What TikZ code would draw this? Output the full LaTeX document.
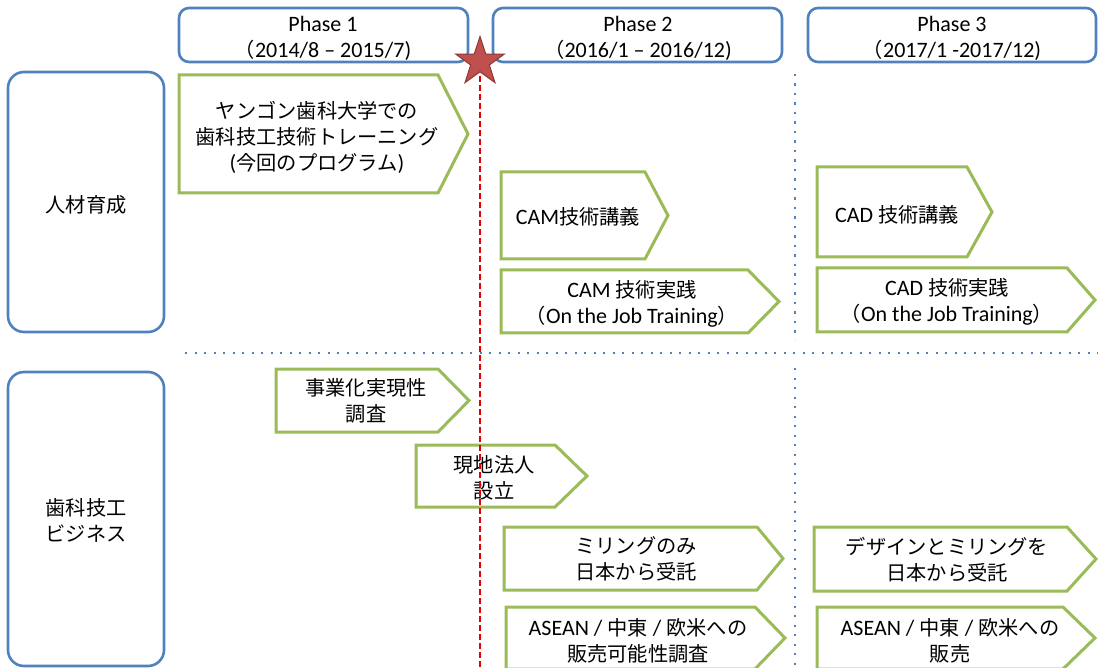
\documentclass[tikz,border=0pt]{standalone}
\usepackage{fontspec}
\setmainfont{Carlito}
\newfontfamily\jp{Noto Sans CJK JP}[Scale=0.92]
\usetikzlibrary{shapes.geometric}
\definecolor{pblue}{RGB}{79,129,189}
\definecolor{pgreen}{RGB}{155,187,89}
\definecolor{pstar}{RGB}{192,80,77}
\definecolor{pstardark}{RGB}{140,56,53}
\newcommand\txtsize{\fontsize{22}{26}\selectfont}
\newcommand\plate[5]{%
  \draw[platebox] (#1,#2) -- (#3,#2) -- (#4,{(#2+#5)/2}) -- (#3,#5) -- (#1,#5) -- cycle;}
\begin{document}
\begin{tikzpicture}[x=1pt,y=-1pt,
  platebox/.style={draw=pgreen,line width=3pt,fill=white,line join=miter},
  phasebox/.style={draw=pblue,line width=2.6pt,rounded corners=10pt,fill=white},
  rowbox/.style={draw=pblue,line width=2.6pt,rounded corners=16pt,fill=white},
  lbl/.style={align=center,inner sep=0pt,font=\txtsize,text=black},
  dotline/.style={draw=pblue,line width=2.4pt,dash pattern=on 2.4pt off 7.1pt},
  redline/.style={draw=red!90!black,line width=2pt,dash pattern=on 6pt off 3pt}]
\useasboundingbox (0,0) rectangle (1098,668);
% dotted separators
\coordinate (hs) at (185,353);
\coordinate (he) at (1098,353);
\draw[dotline] (hs) -- (he);
\coordinate (v1s) at (795,74);
\coordinate (v1e) at (795,340);
\coordinate (v2s) at (795,368);
\coordinate (v2e) at (795,668);
\draw[dotline] (v1s) -- (v1e);
\draw[dotline] (v2s) -- (v2e);
% phase boxes
\draw[phasebox] (179,8) rectangle (468,62);
\draw[phasebox] (493,8) rectangle (782,62);
\draw[phasebox] (808,8) rectangle (1096,62);
\node[lbl] (ph1) at (323,38) {Phase 1\\{\jp （}2014/8 -- 2015/7)};
\node[lbl] (ph2) at (638,38) {Phase 2\\{\jp （}2016/1 -- 2016/12)};
\node[lbl] (ph3) at (952,38) {Phase 3\\{\jp （}2017/1 -2017/12)};
% row boxes
\draw[rowbox] (8,72) rectangle (164,332);
\draw[rowbox] (8,372) rectangle (164,666);
\node[lbl] (r1) at (86,205) {\jp 人材育成};
\node[lbl] (r2) at (86,520) {\jp 歯科技工\\\jp ビジネス};
% plates
\plate{179}{75}{438}{468}{193}
\node[lbl] (p1) at (317,137) {\jp ヤンゴン歯科大学での\\\jp 歯科技工技術トレーニング\\({\jp 今回のプログラム})};
\plate{501}{172}{645}{668}{259}
\node[lbl] (p2) at (578,217) {CAM{\jp 技術講義}};
\plate{501}{270}{748}{779}{333}
\node[lbl] (p3) at (632,304) {CAM {\jp 技術実践}\\{\jp （}On the Job Training{\jp ）}};
\plate{817}{167}{967}{992}{257}
\node[lbl] (p4) at (897,215) {CAD {\jp 技術講義}};
\plate{817}{268}{1067}{1095}{332}
\node[lbl] (p5) at (947,302) {CAD {\jp 技術実践}\\{\jp （}On the Job Training{\jp ）}};
\plate{276}{369}{438}{469}{432}
\node[lbl] (p6) at (366,401) {\jp 事業化実現性\\\jp 調査};
\plate{416}{445}{555}{587}{507}
\node[lbl] (p7) at (494,478) {\jp 現地法人\\\jp 設立};
\plate{504}{527}{757}{783}{590}
\node[lbl] (p8) at (636,559) {\jp ミリングのみ\\\jp 日本から受託};
\plate{506}{607}{755}{785}{669}
\node[lbl] (p9) at (638,641) {ASEAN / {\jp 中東} / {\jp 欧米への}\\\jp 販売可能性調査};
\plate{814}{527}{1067}{1096}{591}
\node[lbl] (p10) at (947,560) {\jp デザインとミリングを\\\jp 日本から受託};
\plate{817}{607}{1063}{1095}{669}
\node[lbl] (p11) at (950,641) {ASEAN / {\jp 中東} / {\jp 欧米への}\\\jp 販売};
% milestone
\node[star,star points=5,star point ratio=2.6,minimum size=51pt,inner sep=0pt,
  fill=pstar,draw=pstardark,line width=1pt] (st) at (480,62) {};
\coordinate (rl) at (480,668);
\draw[redline] (st.center) ++(0,14) -- (rl);
\end{tikzpicture}
\end{document}
